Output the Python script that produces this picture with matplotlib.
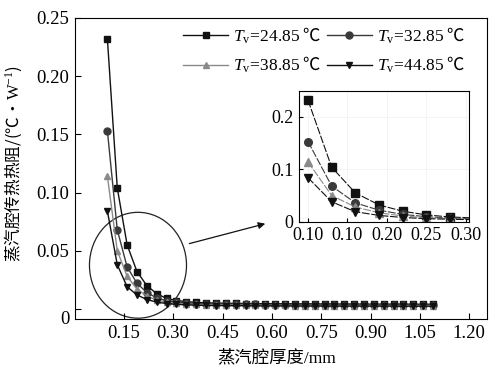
import matplotlib
matplotlib.use('Agg')
from matplotlib import pyplot as plt
from matplotlib.patches import Ellipse

plt.rcParams['font.family'] = ['Liberation Serif', 'Noto Sans CJK SC']
plt.rcParams['mathtext.fontset'] = 'custom'
plt.rcParams['mathtext.rm'] = 'Liberation Serif'
plt.rcParams['mathtext.it'] = 'Liberation Serif:italic'
plt.rcParams['xtick.direction'] = 'in'
plt.rcParams['ytick.direction'] = 'in'

# 蒸汽腔厚度 (mm), 0.10 ~ 1.09
espesor = [0.10, 0.13, 0.16, 0.19, 0.22, 0.25, 0.28, 0.31, 0.34, 0.37,
           0.40, 0.43, 0.46, 0.49, 0.52, 0.55, 0.58, 0.61, 0.64, 0.67,
           0.70, 0.73, 0.76, 0.79, 0.82, 0.85, 0.88, 0.91, 0.94, 0.97,
           1.00, 1.03, 1.06, 1.09]

r_2485 = [0.232, 0.104, 0.055, 0.032, 0.020, 0.013, 0.009, 0.0072, 0.0062, 0.0056,
          0.0052, 0.0050, 0.0048, 0.0047, 0.0046, 0.0045, 0.0045, 0.0044, 0.0044, 0.0043,
          0.0043, 0.0043, 0.0042, 0.0042, 0.0042, 0.0042, 0.0041, 0.0041, 0.0041, 0.0041,
          0.0041, 0.0040, 0.0040, 0.0040]
r_3285 = [0.153, 0.068, 0.036, 0.022, 0.014, 0.0095, 0.007, 0.0058, 0.0050, 0.0046,
          0.0043, 0.0041, 0.0040, 0.0039, 0.0038, 0.0038, 0.0037, 0.0037, 0.0036, 0.0036,
          0.0036, 0.0035, 0.0035, 0.0035, 0.0035, 0.0034, 0.0034, 0.0034, 0.0034, 0.0034,
          0.0033, 0.0033, 0.0033, 0.0033]
r_3885 = [0.114, 0.050, 0.028, 0.017, 0.011, 0.0075, 0.0058, 0.0048, 0.0042, 0.0038,
          0.0036, 0.0034, 0.0033, 0.0032, 0.0031, 0.0031, 0.0030, 0.0030, 0.0030, 0.0029,
          0.0029, 0.0029, 0.0029, 0.0028, 0.0028, 0.0028, 0.0028, 0.0028, 0.0028, 0.0027,
          0.0027, 0.0027, 0.0027, 0.0027]
r_4485 = [0.084, 0.038, 0.019, 0.012, 0.008, 0.0058, 0.0046, 0.0039, 0.0035, 0.0032,
          0.0030, 0.0029, 0.0028, 0.0027, 0.0027, 0.0026, 0.0026, 0.0026, 0.0025, 0.0025,
          0.0025, 0.0025, 0.0025, 0.0024, 0.0024, 0.0024, 0.0024, 0.0024, 0.0024, 0.0024,
          0.0023, 0.0023, 0.0023, 0.0023]

# ℃ fuera de mathtext, con fuente CJK (Liberation Serif no lo tiene)
etiquetas = [r'$T_{\mathrm{v}}\!=\!\mathrm{24.85}$ ℃', r'$T_{\mathrm{v}}\!=\!\mathrm{32.85}$ ℃',
             r'$T_{\mathrm{v}}\!=\!\mathrm{38.85}$ ℃', r'$T_{\mathrm{v}}\!=\!\mathrm{44.85}$ ℃']
series = [r_2485, r_3285, r_3885, r_4485]
marcadores = ['s', 'o', '^', 'v']
colores = ['#111111', '#3a3a3a', '#8a8a8a', '#111111']

xticks_main = [0.15, 0.30, 0.45, 0.60, 0.75, 0.90, 1.05, 1.20]
yticks_main = [0, 0.05, 0.10, 0.15, 0.20, 0.25]
xticks_ins = [0.10, 0.15, 0.20, 0.25, 0.30]
xlabels_ins = ['0.10', '0.10', '0.20', '0.25', '0.30']
yticks_ins = [0, 0.1, 0.2]

fig = plt.figure(figsize=(5, 3.75), dpi=100)
ax = fig.add_axes([0.149, 0.149, 0.825, 0.803])

lineas = []
for y, m, c, lab in zip(series, marcadores, colores, etiquetas):
    l, = ax.plot(espesor, y, marker=m, color=c, markersize=5, linewidth=1.0,
                 markeredgecolor=c, label=lab)
    lineas.append(l)

ax.set_xlim(0, 1.254)
ax.set_ylim(-0.0088, 0.2493)
ax.set_xticks(xticks_main)
ax.set_xticklabels(['%.2f' % v for v in xticks_main])
ax.set_yticks(yticks_main)
ax.set_yticklabels([''] + ['%.2f' % v for v in yticks_main[1:]])
ax.tick_params(labelsize=13.5, length=4, width=0.8, pad=4)
# el "0" va abajo, junto al eje
ax.text(-0.012, -0.0088, '0', transform=ax.get_yaxis_transform(),
        ha='right', va='center', fontsize=13.5)
ax.set_xlabel('蒸汽腔厚度/mm', fontsize=12.5)
ax.xaxis.set_label_coords(0.49, -0.1)
ax.set_ylabel(r'蒸汽腔传热热阻/(℃·$\mathrm{W}^{-1}$)', fontsize=12,
              family='Noto Sans CJK SC')
ax.yaxis.set_label_coords(-0.123, 0.515)

# orden por filas: 24.85, 32.85 / 38.85, 44.85
orden = [0, 2, 1, 3]
ax.legend([lineas[i] for i in orden], [etiquetas[i] for i in orden],
          ncol=2, loc='upper left', bbox_to_anchor=(0.263, 0.975), frameon=False,
          prop={'family': 'Noto Sans CJK SC', 'size': 12.5},
          handlelength=2.6, columnspacing=0.3, handletextpad=0.3,
          labelspacing=0.5, borderaxespad=0.0, borderpad=0.0)

# circulo y flecha
ax.add_patch(Ellipse((0.193, 0.0375), 0.295, 0.091, fill=False,
                     edgecolor='#222222', linewidth=0.9))
ax.annotate('', xy=(0.588, 0.0738), xytext=(0.341, 0.0555),
            arrowprops=dict(arrowstyle='-|>', color='#111111', lw=0.9,
                            mutation_scale=10))

# grafico ampliado
ins = fig.add_axes([0.5986, 0.4088, 0.3394, 0.3493])
for y, m, c in zip(series, marcadores, colores):
    ins.plot(espesor, y, marker=m, color=c, markersize=5.5, linewidth=0.8,
             markeredgecolor=c, linestyle=(0, (7, 1.5)))
ins.set_xlim(0.089, 0.304)
ins.set_ylim(0, 0.25)
ins.set_xticks(xticks_ins)
ins.set_xticklabels(xlabels_ins)
ins.set_yticks(yticks_ins)
ins.set_yticklabels(['0', '0.1', '0.2'])
ins.tick_params(labelsize=13, length=3, width=0.8, pad=2)
ins.tick_params(axis='x', pad=4)
ins.tick_params(axis='y', pad=4)
ins.grid(True, color='#f2f2f2', linewidth=0.6)
ins.set_axisbelow(True)

fig.savefig('out.png', dpi=100)
